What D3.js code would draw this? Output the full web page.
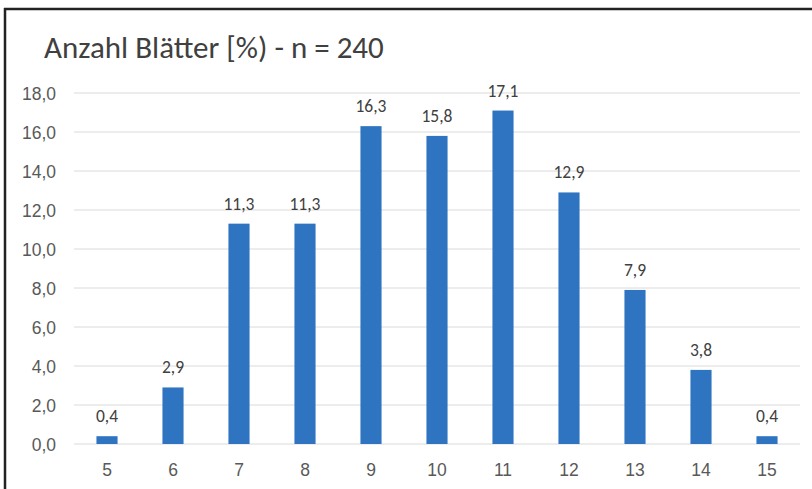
<!DOCTYPE html>
<html>
<head>
<meta charset="utf-8">
<script src="https://cdn.jsdelivr.net/npm/d3@7"></script>
<style>
  body { margin: 0; background: #fff; }
  svg { display: block; font-family: Carlito, Lato, "Liberation Sans", sans-serif; }
</style>
</head>
<body>
<svg id="chart" width="812" height="489"></svg>
<script>
categories = ["5", "6", "7", "8", "9", "10", "11", "12", "13", "14", "15"];
values = [0.4, 2.9, 11.3, 11.3, 16.3, 15.8, 17.1, 12.9, 7.9, 3.8, 0.4];
yTicks = [0, 2, 4, 6, 8, 10, 12, 14, 16, 18];
title = "Anzahl Blätter [%) - n = 240";

svg = d3.select("#chart");
fmt = d => d.toFixed(1).replace(".", ",");

// frame from the scan
svg.append("line").attr("x1", 4).attr("x2", 812).attr("y1", 9).attr("y2", 9)
    .attr("stroke", "#222").attr("stroke-width", 2.5);
svg.append("line").attr("x1", 5).attr("x2", 5).attr("y1", 8).attr("y2", 489)
    .attr("stroke", "#222").attr("stroke-width", 2.5);

svg.append("text")
    .text(title)
    .attr("x", 44).attr("y", 58)
    .attr("font-size", 31)
    .attr("fill", "#404040");

x = d3.scaleBand().domain(categories).range([74, 800]).paddingInner(0.68).paddingOuter(0.34);
y = d3.scaleLinear().domain([0, 18]).range([444, 93]);

grid = svg.append("g");
grid.selectAll("line")
    .data(yTicks)
    .join("line")
    .attr("x1", 74).attr("x2", 800)
    .attr("y1", d => y(d)).attr("y2", d => y(d))
    .attr("stroke", "#dadada")
    .attr("stroke-width", 1);

yAxis = svg.append("g")
    .attr("transform", "translate(56,1)")
    .call(d3.axisLeft(y).tickValues(yTicks).tickFormat(fmt).tickSize(0).tickPadding(0));
yAxis.select(".domain").remove();
yAxis.selectAll("text").attr("font-size", 17.5).attr("fill", "#595959").attr("font-family", null);

xAxis = svg.append("g")
    .attr("transform", "translate(0,464)")
    .call(d3.axisBottom(x).tickSize(0).tickPadding(0));
xAxis.select(".domain").remove();
xAxis.selectAll("text").attr("font-size", 17.5).attr("fill", "#595959").attr("font-family", null);

svg.append("g").selectAll("rect")
    .data(values)
    .join("rect")
    .attr("x", (d, i) => x(categories[i]))
    .attr("y", d => y(d))
    .attr("width", x.bandwidth())
    .attr("height", d => y(0) - y(d))
    .attr("fill", "#2e74c0");

svg.append("g").selectAll("text")
    .data(values)
    .join("text")
    .text(fmt)
    .attr("x", (d, i) => x(categories[i]) + x.bandwidth() / 2)
    .attr("y", d => y(d) - 14)
    .attr("text-anchor", "middle")
    .attr("font-size", 17.5)
    .attr("fill", "#404040");
</script>
</body>
</html>
